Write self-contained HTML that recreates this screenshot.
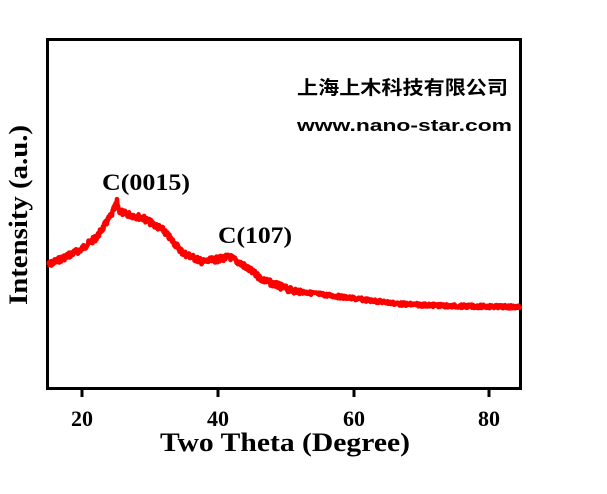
<!DOCTYPE html>
<html><head><meta charset="utf-8"><style>
html,body{margin:0;padding:0;background:#fff;width:607px;height:494px;overflow:hidden}
svg{display:block}
.s{font-family:"Liberation Serif",serif;font-weight:bold;fill:#000}
.c{font-family:"Liberation Sans","Noto Sans CJK SC",sans-serif;font-weight:bold;fill:#000}
</style></head><body>
<svg id="g" width="607" height="494" viewBox="0 0 607 494">
<rect x="47.5" y="39.5" width="473" height="349" fill="none" stroke="#000" stroke-width="3"/>
<g stroke="#000" stroke-width="3">
<line x1="82" y1="389" x2="82" y2="397"/><line x1="218" y1="389" x2="218" y2="397"/>
<line x1="354" y1="389" x2="354" y2="397"/><line x1="489" y1="389" x2="489" y2="397"/>
</g>
<g class="s" font-size="22" text-anchor="middle">
<text x="82" y="426">20</text><text x="218" y="426">40</text><text x="354" y="426">60</text><text x="489" y="426">80</text>
</g>
<text class="s" font-size="26" x="285" y="451" text-anchor="middle" textLength="250" lengthAdjust="spacingAndGlyphs">Two Theta (Degree)</text>
<text class="s" font-size="26" transform="translate(27,215) rotate(-90)" text-anchor="middle" textLength="180" lengthAdjust="spacingAndGlyphs">Intensity (a.u.)</text>
<text class="s" font-size="23" x="146" y="190" text-anchor="middle" textLength="88" lengthAdjust="spacingAndGlyphs">C(0015)</text>
<text class="s" font-size="23" x="255" y="243" text-anchor="middle" textLength="74" lengthAdjust="spacingAndGlyphs">C(107)</text>
<text class="c" font-size="19" x="297" y="94" textLength="211" lengthAdjust="spacingAndGlyphs">上海上木科技有限公司</text>
<text class="c" font-size="17" x="297" y="131" textLength="215" lengthAdjust="spacingAndGlyphs">www.nano-star.com</text>
<path id="p" fill="none" stroke="#f00" stroke-width="4.5" stroke-linejoin="round"/>
</svg>
<script>
var pts=[[48,265],[80,250],[97,237],[112,214],[117,202],[119,210],[123,213],[143,218],[163,230],[183,253],[203,262],[230,257],[243,265],[263,280],[290,290],[310,293],[350,298],[400,304],[450,306],[520,307]];
function f(x){for(var i=0;i<pts.length-1;i++){var a=pts[i],b=pts[i+1];if(x<=b[0]){var t=(x-a[0])/(b[0]-a[0]);return a[1]+t*(b[1]-a[1]);}}return 307;}
var d="",s=7;function r(){s=(s*9301+49297)%233280;return s/233280;}
for(var x=48;x<=520;x+=0.5){var y=f(x)+(r()-0.5)*(x<300?6:3.5);d+=(x==48?"M":"L")+x+","+y.toFixed(1);}
document.getElementById("p").setAttribute("d",d);
</script>
</body></html>
